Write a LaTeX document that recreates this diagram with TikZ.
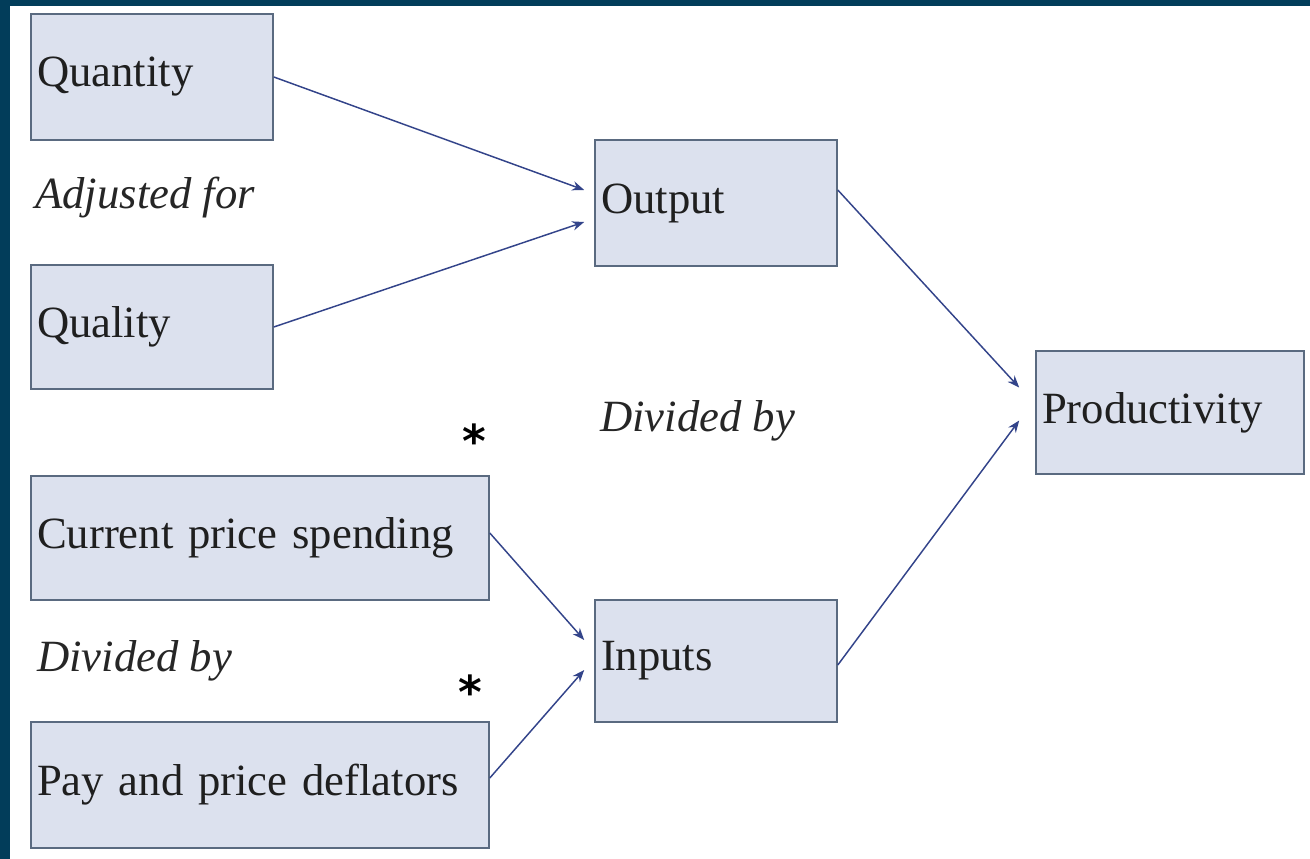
\documentclass[tikz,border=0pt]{standalone}
\usepackage{fontspec}
\setmainfont{Liberation Serif}
\newfontfamily\astfont{DejaVu Sans}
\usetikzlibrary{calc,arrows.meta}
\definecolor{frameblue}{HTML}{023D5A}
\definecolor{boxfill}{HTML}{DCE1EE}
\definecolor{boxline}{HTML}{5A6A80}
\definecolor{arrowblue}{HTML}{33448A}
\tikzset{
  box/.style={draw=boxline, fill=boxfill, line width=1.2pt, inner xsep=4.5pt,
    align=left, font=\fontsize{33.5}{40}\selectfont, text=black!88},
  arr/.style={draw=arrowblue, line width=1.1pt, -{Stealth[length=9pt,width=7pt]}},
  lbl/.style={font=\fontsize{33.5}{40}\selectfont\itshape, text=black!85, inner sep=0pt},
  ast/.style={font=\fontsize{34}{40}\astfont\bfseries, inner sep=0pt}
}
\begin{document}
\begin{tikzpicture}[x=0.75pt,y=-0.75pt]
\useasboundingbox (0,0) rectangle (1310,859);
\fill[white] (0,0) rectangle (1310,859);
\fill[frameblue] (0,0) rectangle (1310,6);
\fill[frameblue] (0,0) rectangle (10,859);

\node[box, minimum width=181.5pt, minimum height=94.5pt, text width=172.5pt] (quantity) at (152,77) {Quantity};
\node[box, minimum width=181.5pt, minimum height=93pt, text width=172.5pt] (quality) at (152,327) {Quality};
\node[box, minimum width=181.5pt, minimum height=94.5pt, text width=172.5pt] (output) at (716,203) {Output};
\node[box, minimum width=201pt, minimum height=92pt, text width=192pt] (productivity) at (1170,412.5) {Productivity};
\node[box, minimum width=343.5pt, minimum height=93pt, text width=334.5pt] (current) at (260,538) {Current price spending};
\node[box, minimum width=181.5pt, minimum height=91.5pt, text width=172.5pt] (inputs) at (716,661) {Inputs};
\node[box, minimum width=343.5pt, minimum height=94.5pt, text width=334.5pt] (pay) at (260,785) {Pay and price deflators};

\node[lbl, anchor=west] (adj) at (35,198) {Adjusted for};
\node[lbl, anchor=west] (div1) at (600,421) {Divided by};
\node[lbl, anchor=west] (div2) at (37,661) {Divided by};
\node[ast] (ast1) at (474,441) {*};
\node[ast] (ast2) at (470,692) {*};

\draw[arr] (quantity.east) -- ($(output.west)+(-10,-13)$);
\draw[arr] (quality.east) -- ($(output.west)+(-10,19)$);
\draw[arr] ($(output.east)+(0,-13)$) -- ($(productivity.west)+(-16,-25)$);
\draw[arr] ($(inputs.east)+(0,4)$) -- ($(productivity.west)+(-16,8)$);
\draw[arr] ($(current.east)+(0,-5)$) -- ($(inputs.west)+(-10,-21)$);
\draw[arr] ($(pay.east)+(0,-7)$) -- ($(inputs.west)+(-10,9)$);
\end{tikzpicture}
\end{document}
